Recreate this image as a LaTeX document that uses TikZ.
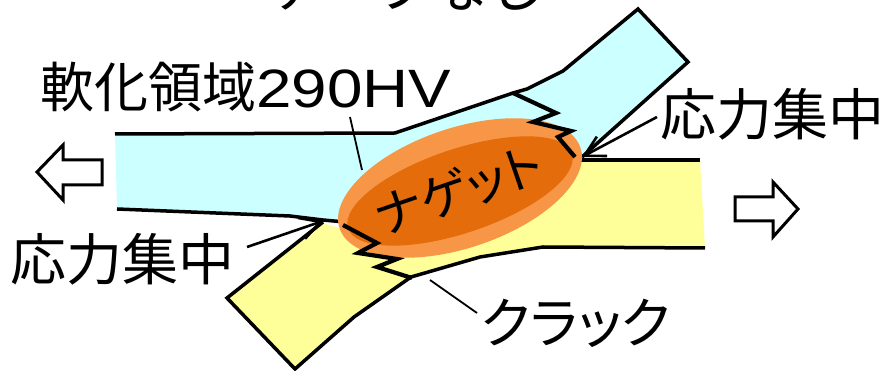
\documentclass[tikz,border=0pt]{standalone}
\usepackage{fontspec}
\usetikzlibrary{arrows.meta}
\newfontfamily\jpfont{Noto Sans CJK JP}
\newfontfamily\jppfont[RawFeature=+palt]{Noto Sans CJK JP}
\newfontfamily\latfont{Liberation Sans}
\definecolor{platea}{HTML}{CCFFFF}
\definecolor{plateb}{HTML}{FFFF99}
\definecolor{nugout}{HTML}{F79646}
\definecolor{nugin}{HTML}{E46C0A}
\begin{document}
\begin{tikzpicture}[x=1pt,y=-1pt,
  edge/.style={line width=3.5pt, line join=miter},
  crack/.style={line width=4.2pt, line join=miter},
  leader/.style={line width=1.8pt},
  callout/.style={line width=2.6pt, -{Straight Barb[length=20pt,width=22pt]}},
  lbl/.style={inner sep=0pt, anchor=base west, font=\jpfont\fontsize{56pt}{60pt}\selectfont},
  hollow/.style={draw, fill=white, line width=3pt, line join=miter}]
\useasboundingbox (0,0) rectangle (892,371);
\clip (0,0) rectangle (892,371);

% upper sheet (blue)
\fill[platea] (115,134) -- (395,133) -- (513,93) -- (527,89) -- (563,71) -- (638,9)
  -- (688,62) -- (582,157) -- (460,190) -- (345,221) -- (323,220) -- (290,216)
  -- (117,209) -- cycle;
% lower sheet (yellow)
\fill[plateb] (323,223) -- (345,230) -- (460,195) -- (580,160) -- (700,160)
  -- (705,248) -- (543,247) -- (480,257) -- (411,277) -- (354,317) -- (295,369)
  -- (227,298) -- cycle;

% sheet outlines
\draw[edge] (115,134) -- (395,133) -- (513,93) -- (527,89) -- (563,71) -- (638,9)
  -- (688,62) -- (582,157);
\draw[edge] (117,209) -- (290,216) -- (323,220) -- (345,222);
\draw[edge] (580,160) -- (700,160);
\draw[edge] (705,248) -- (543,247) -- (480,257) -- (411,277) -- (354,317)
  -- (295,369) -- (227,298) -- (323,222);

% weld nugget
\begin{scope}[shift={(460,188)}, rotate=18.5]
  \fill[nugout] (0,0) ellipse [x radius=127pt, y radius=60pt];
\end{scope}
\begin{scope}[shift={(460,191)}, rotate=18.5]
  \fill[nugin] (0,0) ellipse [x radius=118pt, y radius=42pt];
\end{scope}
\node[inner sep=0pt, rotate=19, font=\jppfont\fontsize{50pt}{54pt}\selectfont]
  (nugget) at (459,190) {ナゲット};

% cracks
\draw[crack] (513,93) -- (556,113) -- (533,122) -- (571,131) -- (558,137) -- (575,157);
\draw[crack] (343,225) -- (377,243) -- (358,253) -- (397,259) -- (377,267) -- (412,278);

% labels
\node[lbl] (title) at (268,8) {テープなし};
\node[lbl, font=\jpfont\fontsize{54pt}{58pt}\selectfont] (soft) at (40,108)
  {軟化領域{\latfont\scalebox{1.18}[1]{290HV}}};
\node[lbl] (stressL) at (10,281) {応力集中};
\node[lbl] (stressR) at (660,136) {応力集中};
\node[lbl, font=\jppfont\fontsize{55pt}{58pt}\selectfont] (crackL) at (481,344) {クラック};

% leader lines and callouts
\coordinate (softA) at (350,117);
\coordinate (softB) at (362,170);
\coordinate (crackA) at (477,313);
\coordinate (crackB) at (430,280);
\coordinate (stressLA) at (247,247);
\coordinate (stressLB) at (323,221);
\coordinate (stressRA) at (657,117);
\coordinate (stressRB) at (582,157);
\draw[leader] (softA) -- (softB);
\draw[leader] (crackA) -- (crackB);
\draw[callout] (stressLA) -- (stressLB);
\draw[callout] (stressRA) -- (stressRB);

% load direction arrows
\draw[hollow] (37,172) -- (63,145) -- (63,160) -- (102,160) -- (102,185) -- (63,185)
  -- (63,200) -- cycle;
\draw[hollow] (798,209) -- (773,182) -- (773,197) -- (735,197) -- (735,221) -- (773,221)
  -- (773,237) -- cycle;
\end{tikzpicture}
\end{document}
